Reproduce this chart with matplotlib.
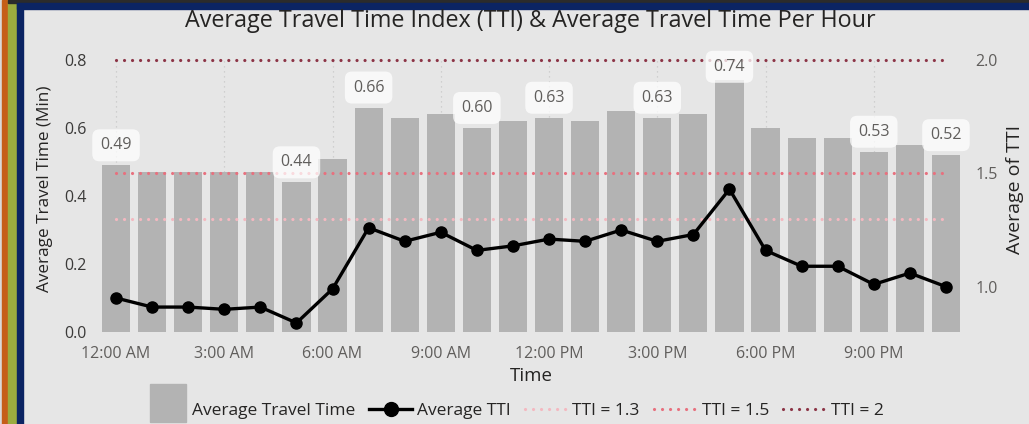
import matplotlib
matplotlib.use("Agg")
import matplotlib.pyplot as plt
from matplotlib.patches import Rectangle
from matplotlib.legend_handler import HandlerPatch

plt.rcParams['font.family'] = ['Open Sans', 'DejaVu Sans']

# Hourly values
hours = list(range(24))
avg_travel_time = [0.49, 0.47, 0.47, 0.47, 0.47, 0.44, 0.51, 0.66, 0.63, 0.64,
                   0.60, 0.62, 0.63, 0.62, 0.65, 0.63, 0.64, 0.74, 0.60, 0.57,
                   0.57, 0.53, 0.55, 0.52]
avg_tti = [0.95, 0.91, 0.91, 0.90, 0.91, 0.84, 0.99, 1.26, 1.20, 1.24,
           1.16, 1.18, 1.21, 1.20, 1.25, 1.20, 1.23, 1.43, 1.16, 1.09,
           1.09, 1.01, 1.06, 1.00]
labelled_hours = [0, 5, 7, 10, 12, 15, 17, 21, 23]
tick_hours = [0, 3, 6, 9, 12, 15, 18, 21]
tick_labels = ["12:00 AM", "3:00 AM", "6:00 AM", "9:00 AM",
               "12:00 PM", "3:00 PM", "6:00 PM", "9:00 PM"]
thresholds = [1.3, 1.5, 2.0]
threshold_names = ["TTI = 1.3", "TTI = 1.5", "TTI = 2"]
threshold_colors = ["#F4B8C0", "#E8707E", "#8C3446"]

BG = "#E6E6E6"
BAR = "#B3B3B3"
TICK = "#605E5C"
DARK = "#252423"

fig = plt.figure(figsize=(10.29, 4.24), dpi=100, facecolor=BG)

# card border stripes
W, H = 1029, 424
def px_rect(x0, y0, x1, y1, color):
    fig.patches.append(Rectangle((x0 / W, 1 - y1 / H), (x1 - x0) / W, (y1 - y0) / H,
                                 transform=fig.transFigure, color=color, zorder=0))
px_rect(0, 0, 3, 424, "#D9D9D9")
px_rect(2, 0, 8, 424, "#C55E18")
px_rect(8, 0, 17, 424, "#9BAB3F")
px_rect(17, 3, 23, 424, "#0B2463")
px_rect(8, 0, 1029, 3, "#2B2B2B")
px_rect(17, 3, 1029, 9, "#0B2463")

ax = fig.add_axes([98 / W, 92 / H, (964 - 98) / W, 0.6736])
ax.set_facecolor("none")
for s in ax.spines.values():
    s.set_visible(False)

ax.bar(hours, avg_travel_time, width=0.78, color=BAR, zorder=2)
ax.set_xlim(-0.5, 23.5)
ax.set_ylim(0, 0.84)
ax.set_yticks([0.0, 0.2, 0.4, 0.6, 0.8])
ax.set_yticklabels(["0.0", "0.2", "0.4", "0.6", "0.8"])
ax.set_xticks(tick_hours)
ax.set_xticklabels(tick_labels)
ax.tick_params(axis="both", length=0, colors=TICK, labelsize=11.5)
ax.tick_params(axis="x", pad=10)
ax.tick_params(axis="y", pad=8)
for lbl in ax.get_yticklabels():
    lbl.set_color("#3B3A39")
for x in tick_hours:
    ax.axvline(x, ymin=0, ymax=0.8 / 0.84, color="#C8C8C8", linestyle=(0, (1, 3)),
               linewidth=0.9, zorder=1)
ax.set_xlabel("Time", fontsize=13.5, color=DARK, labelpad=4)
ax.set_ylabel("Average Travel Time (Min)", fontsize=12.3, color=DARK, labelpad=8)

ax2 = ax.twinx()
ax2.set_ylim(0.8, 0.8 + 1.5 * 0.84)
ax2.set_yticks([1.0, 1.5, 2.0])
ax2.set_yticklabels(["1.0", "1.5", "2.0"])
ax2.tick_params(axis="y", length=0, colors=TICK, labelsize=11.5, pad=8)
for s in ax2.spines.values():
    s.set_visible(False)
ax2.set_ylabel("Average of TTI", fontsize=14, color=DARK, rotation=90, labelpad=6)

ref_handles = []
for t, c in zip(thresholds, threshold_colors):
    ln, = ax2.plot([hours[0], hours[-1]], [t, t], color=c, linewidth=2.3,
                   linestyle=(0, (0.01, 2.5)), dash_capstyle="round", zorder=3)
    ref_handles.append(ln)

tti_line, = ax2.plot(hours, avg_tti, color="black", linewidth=2.4, marker="o",
                     markersize=8, zorder=5)

# value labels sit above every other layer, kept inside the plot area
for h in labelled_hours:
    v = avg_travel_time[h]
    ax2.text(h, min(v + 0.059, 0.78), f"{v:.2f}", transform=ax.transData,
             ha="center", va="center", fontsize=11.5, color=TICK, zorder=6,
             bbox=dict(boxstyle="round,pad=0.5,rounding_size=0.45",
                       facecolor="white", edgecolor="none", alpha=0.75))

fig.text(530 / W, 1 - 21 / H, "Average Travel Time Index (TTI) & Average Travel Time Per Hour",
         ha="center", va="center", fontsize=16.8, color=DARK)


# tall legend swatch for the bars
def tall_patch(legend, orig_handle, xdescent, ydescent, width, height, fontsize):
    return Rectangle((-xdescent + 0.12 * width, -ydescent - 0.55 * height),
                     width * 0.85, height * 3.1)


bar_handle = Rectangle((0, 0), 1, 1, color=BAR)
handles = [bar_handle, tti_line] + ref_handles
labels = ["Average Travel Time", "Average TTI"] + threshold_names
leg = fig.legend(handles, labels, loc="center", bbox_to_anchor=(514 / W, 1 - 411 / H),
                 ncol=5, frameon=False, fontsize=12.5, handlelength=2.45,
                 handletextpad=0.3, columnspacing=0.8, markerscale=1.25,
                 handler_map={Rectangle: HandlerPatch(patch_func=tall_patch)})
for txt in leg.get_texts():
    txt.set_color(DARK)

fig.savefig("out.png", dpi=100, facecolor=BG)
